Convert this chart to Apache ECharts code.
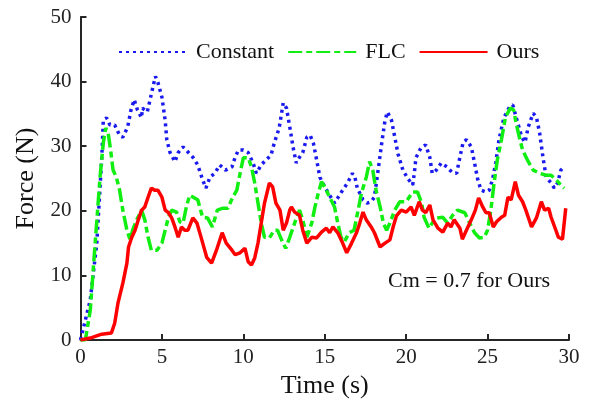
<!DOCTYPE html>
<html>
<head>
<meta charset="utf-8">
<script src="https://cdn.jsdelivr.net/npm/echarts@6/dist/echarts.min.js"></script>
<style>
html,body{margin:0;padding:0;background:#fff;}
#chart{width:590px;height:410px;}
</style>
</head>
<body>
<div id="chart"></div>
<script>
var seriesNames = ['Constant', 'FLC', 'Ours'];
var xTicks = [0, 5, 10, 15, 20, 25, 30];
var yTicks = [0, 10, 20, 30, 40, 50];

var constTime = [0,0.6,1.0,1.3,1.4,1.6,1.8,2.1,2.4,2.6,2.9,3.1,3.3,3.5,3.75,3.8,4.1,4.3,4.45,4.6,4.75,5.0,5.2,5.3,5.5,5.8,6.0,6.3,6.6,6.9,7.2,7.5,7.7,7.95,8.25,8.55,8.9,9.3,9.5,9.7,10.0,10.3,10.6,10.8,11.1,11.4,11.7,11.9,12.2,12.45,12.65,12.85,13.05,13.25,13.45,13.65,13.9,14.1,14.3,14.5,14.7,15.0,15.3,15.6,15.8,16.1,16.4,16.7,16.85,17.0,17.35,17.6,17.85,18.05,18.25,18.5,18.7,18.85,19.1,19.3,19.5,19.8,20.1,20.4,20.5,20.6,20.9,21.2,21.45,21.6,21.85,22.15,22.5,22.8,23.1,23.3,23.5,23.7,24.0,24.2,24.4,24.6,24.9,25.1,25.3,25.5,25.7,26.0,26.35,26.55,26.75,27.1,27.3,27.5,27.8,28.0,28.2,28.4,28.6,28.9,29.1,29.3,29.5,29.7];
var constForce = [0,6.2,15,27.9,34,34.4,33.3,33.3,31.7,31.4,33,35.6,37.2,35.6,34.4,35.9,35.3,37.5,39.2,40.8,39.9,37.6,34,31,29,27.6,29,29.9,29.1,28.3,27.1,24.8,23.5,25.2,25.8,27.1,26.3,26.8,28.3,29.4,29.4,29,27.4,25.8,27.1,27.9,28.6,30.5,32.8,36.7,35.9,33,29.9,27.4,28.3,29,31.4,31.7,30.5,27.9,25.2,23.7,22.4,21.2,22,23.2,24.3,25.8,25.2,23.5,21.7,21.2,21.4,22.1,25.8,30.5,34,35.3,34,31.4,28.8,26.3,25,24,25.8,28.2,29.7,30.2,28.3,25.8,26.3,27.4,26.8,26,25.8,28.3,30.6,31,29.9,27.4,24.8,23.2,22.9,23.2,24.8,27.4,31,34.4,36.1,36.4,34.5,31.4,30.6,33,35.1,34.5,32,28.3,25.2,24.3,23.5,24.3,26.3,26.8];

var flcTime = [0,0.3,0.6,0.9,1.2,1.4,1.55,1.7,1.85,2.0,2.2,2.4,2.6,2.85,3.05,3.2,3.45,3.75,3.95,4.15,4.35,4.7,5.0,5.2,5.4,5.6,5.9,6.1,6.3,6.5,6.7,7.0,7.2,7.5,7.8,8.1,8.4,8.75,9.05,9.35,9.6,9.8,10.0,10.3,10.5,10.7,10.9,11.1,11.3,11.6,11.9,12.1,12.35,12.6,12.85,13.15,13.45,13.65,13.9,14.2,14.4,14.6,14.8,15.0,15.3,15.6,15.8,16.0,16.2,16.5,16.8,17.05,17.25,17.55,17.75,17.95,18.15,18.4,18.6,18.8,19.0,19.3,19.6,20.0,20.4,20.7,20.95,21.1,21.4,21.6,21.9,22.25,22.55,22.85,23.15,23.6,23.9,24.2,24.5,24.8,25.0,25.2,25.4,25.6,25.85,26.1,26.4,26.6,26.75,26.95,27.15,27.5,27.8,28.2,28.6,28.9,29.2,29.5,29.7];
var flcForce = [0,0,4.6,15,25.2,30.5,32.8,32,29.4,26.3,25.2,23.2,20.1,17,15.5,17,18.6,20.1,18.6,15.9,13.9,13.9,15,17,19,20.1,19.8,18.3,18.1,20.6,22.4,22,21.7,19,18.9,17.5,20.1,20.4,20.4,22.1,23.2,25.8,28.2,28.2,26.8,24.3,21.2,18.1,15.9,15.8,17,17,15.5,14.2,15.9,18.1,20.1,18.6,15.9,18.1,20.6,22.7,24.5,23.7,22.1,20.6,18.1,15.9,15.2,16.6,17,20.1,22.7,25.2,27.6,26.3,23.2,20.6,18.1,17,18.1,20.1,21.4,21.4,22.9,22.9,21.2,19,17.3,18.1,18.9,19,18.1,19.3,20.1,19.7,18.1,16.6,15.8,15.9,17,20.1,24.3,27.9,31,34.5,35.9,35.6,33.6,31.4,29.4,27.6,26.3,25.8,25.5,25.5,24.8,24,23.5];

var oursTime = [0,0.6,1.3,1.9,2.1,2.3,2.6,2.85,2.95,3.15,3.35,3.55,3.75,3.95,4.15,4.35,4.55,4.75,5.0,5.2,5.4,5.6,5.8,6.0,6.2,6.4,6.6,6.9,7.15,7.45,7.75,8.05,8.35,8.7,8.95,9.3,9.5,9.8,10.1,10.3,10.5,10.7,10.9,11.1,11.3,11.6,11.8,12.0,12.25,12.45,12.65,12.85,12.95,13.15,13.45,13.65,13.9,14.2,14.5,14.8,15.1,15.3,15.5,15.8,16.1,16.35,16.65,16.95,17.15,17.35,17.55,17.85,18.05,18.4,18.7,19.0,19.2,19.4,19.7,20.0,20.3,20.5,20.8,21.0,21.2,21.45,21.65,21.95,22.25,22.55,22.75,22.95,23.3,23.45,23.7,24.0,24.25,24.45,24.7,24.9,25.1,25.35,25.55,25.85,26.05,26.25,26.45,26.7,26.9,27.15,27.35,27.7,28.0,28.3,28.5,28.75,28.9,29.15,29.35,29.6,29.8];
var oursForce = [0,0.3,0.9,1.1,2.6,5.7,8.8,11.9,14.4,15.9,17,18.6,20.1,20.6,22.1,23.5,23.2,23.2,22.1,20.1,19.7,18.9,17.5,15.9,17.5,17,17,18.9,18.1,15.5,12.8,11.9,13.9,16.6,15,13.9,13.2,13.5,14.2,12.1,11.6,12.7,15,18.1,21.2,24.3,23.7,21.2,20.1,17,18.1,20.1,20.6,19.8,19.3,17,15,15.9,15.8,16.7,17.3,16.6,17.5,16.6,15,13.5,15,16.6,18.1,19.8,18.6,17.5,16.6,14.4,15,15.5,17.5,19.2,20.1,19.8,20.6,19.3,21.4,20.1,19.7,20.9,18.6,17.3,16.7,18.1,17.5,18.6,17.3,15.6,17,18.6,20.1,22,20.6,19.7,19.7,17.5,18.3,19,19.3,22.1,21.7,24.5,22.4,21.4,20.1,17.5,18.9,21.4,20.1,20.4,19,17.3,15.9,15.6,20.4];

function pairs(t, f) { return t.map(function (v, i) { return [v, f[i]]; }); }

var axisColor = '#262626';
var font = 'Liberation Serif, Times New Roman, serif';

var chart = echarts.init(document.getElementById('chart'), null, {renderer: 'canvas'});
chart.setOption({
  animation: false,
  backgroundColor: '#fff',
  grid: {left: 80.5, right: 21, top: 17, bottom: 70, containLabel: false},
  legend: {
    left: 113, top: 36,
    itemWidth: 68, itemHeight: 14, itemGap: 13,
    data: seriesNames,
    itemStyle: {opacity: 0},
    textStyle: {fontFamily: font, fontSize: 22, color: '#111', padding: [0, 0, 0, 4]}
  },
  xAxis: {
    type: 'value', min: xTicks[0], max: xTicks[xTicks.length - 1], interval: 5,
    name: 'Time (s)', nameLocation: 'middle', nameGap: 29,
    nameTextStyle: {fontFamily: font, fontSize: 26, color: '#111'},
    axisLine: {show: true, lineStyle: {color: axisColor, width: 2}},
    axisTick: {show: true, inside: true, length: 6, lineStyle: {color: axisColor, width: 2}},
    axisLabel: {fontFamily: font, fontSize: 21, color: '#222', margin: 7},
    splitLine: {show: false}
  },
  yAxis: {
    type: 'value', min: yTicks[0], max: yTicks[yTicks.length - 1], interval: 10,
    name: 'Force (N)', nameLocation: 'middle', nameGap: 40,
    nameTextStyle: {fontFamily: font, fontSize: 26, color: '#111'},
    axisLine: {show: true, lineStyle: {color: axisColor, width: 2}},
    axisTick: {show: true, inside: true, length: 6, lineStyle: {color: axisColor, width: 2}},
    axisLabel: {fontFamily: font, fontSize: 21, color: '#222', margin: 9},
    splitLine: {show: false}
  },
  graphic: [{
    type: 'text', left: 388, top: 270,
    style: {text: 'Cm = 0.7 for Ours', font: '22px ' + font, fill: '#111'}
  }],
  series: [
    {
      name: seriesNames[0], type: 'line', data: pairs(constTime, constForce),
      symbol: 'none', showSymbol: false,
      lineStyle: {color: '#1a1aee', width: 3.5, type: [3, 4], cap: 'butt'},
      itemStyle: {color: '#1a1aee'}
    },
    {
      name: seriesNames[1], type: 'line', data: pairs(flcTime, flcForce),
      symbol: 'none', showSymbol: false,
      lineStyle: {color: '#11ee11', width: 3.5, type: [14, 4, 6, 4], cap: 'butt'},
      itemStyle: {color: '#11ee11'}
    },
    {
      name: seriesNames[2], type: 'line', data: pairs(oursTime, oursForce),
      symbol: 'none', showSymbol: false,
      lineStyle: {color: '#ff0000', width: 3.5, type: 'solid'},
      itemStyle: {color: '#ff0000'}
    }
  ]
});
</script>
</body>
</html>
